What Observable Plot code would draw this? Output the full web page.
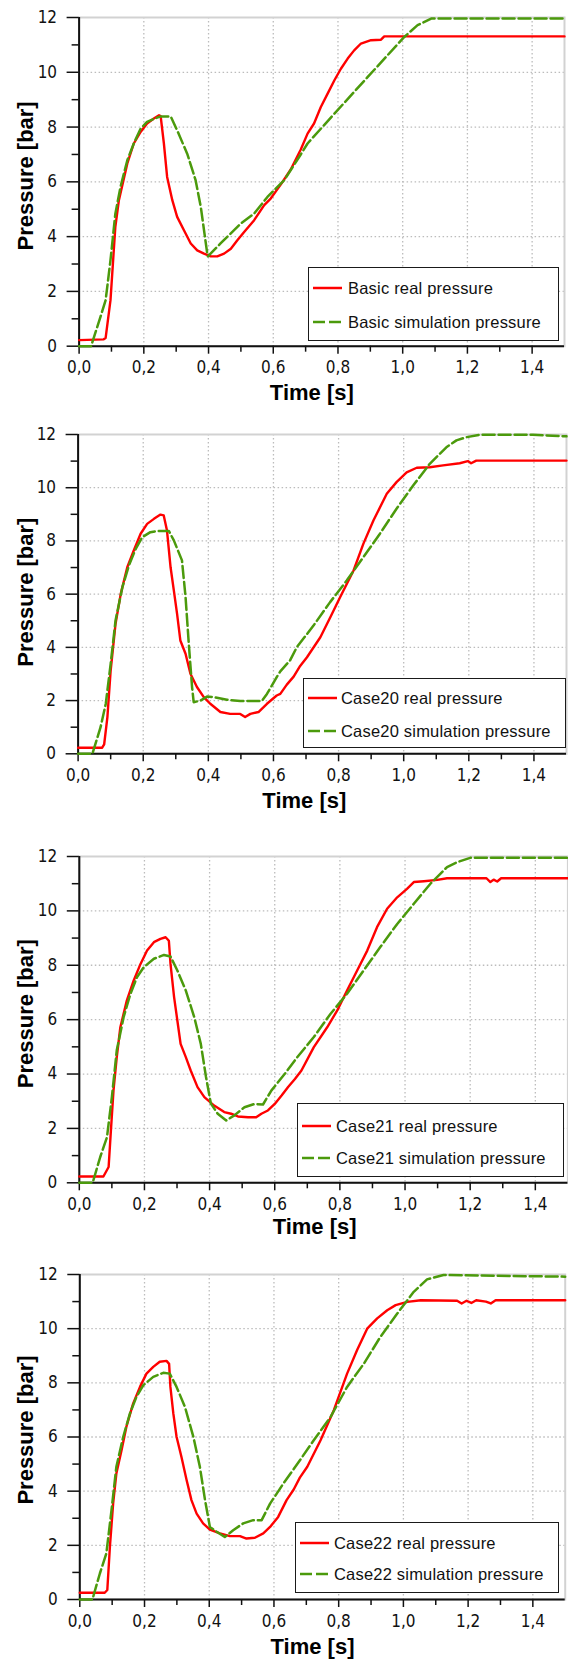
<!DOCTYPE html>
<html><head><meta charset="utf-8">
<script src="https://cdn.jsdelivr.net/npm/d3@7"></script>
<script src="https://cdn.jsdelivr.net/npm/@observablehq/plot@0.6"></script>
<style>
html,body{margin:0;padding:0;background:#fff;}
#root{position:relative;width:568px;height:1659px;overflow:hidden;background:#fff;}
.panel{position:absolute;left:0;}
.legend{position:absolute;background:#fff;border:1px solid #1a1a1a;box-sizing:border-box;font-family:"Liberation Sans",Arial,sans-serif;font-size:16.5px;letter-spacing:0.2px;color:#111;}
.legend .row{position:absolute;display:flex;align-items:center;white-space:nowrap;height:20px;}
.legend svg{display:block;}
</style></head><body><div id="root"></div>
<script>
// ---------- tick values ----------
const xTicks = [0, 0.2, 0.4, 0.6, 0.8, 1.0, 1.2, 1.4];
const xMinorTicks = [0.1, 0.3, 0.5, 0.7, 0.9, 1.1, 1.3];
const yTicks = [0, 2, 4, 6, 8, 10, 12];
const yMinorTicks = [1, 3, 5, 7, 9, 11];
const caseNames = ["Basic", "Case20", "Case21", "Case22"];

// ---------- Basic ----------
const basicRealTime = [0,0.076,0.082,0.097,0.112,0.123,0.149,0.169,0.19,0.21,0.231,0.247,0.252,0.262,0.272,0.288,0.303,0.324,0.345,0.365,0.386,0.407,0.427,0.448,0.469,0.489,0.51,0.541,0.572,0.592,0.623,0.654,0.685,0.706,0.726,0.747,0.768,0.789,0.809,0.83,0.85,0.871,0.902,0.933,0.943,1.5];
const basicRealPressure = [0.22,0.25,0.3,1.68,4.36,5.33,6.67,7.4,7.82,8.13,8.31,8.43,8.4,7.4,6.18,5.33,4.72,4.23,3.75,3.5,3.38,3.28,3.28,3.38,3.56,3.87,4.17,4.6,5.15,5.39,5.9,6.45,7.18,7.76,8.13,8.73,9.22,9.71,10.13,10.5,10.8,11.05,11.17,11.19,11.31,11.31];
const basicSimTime = [0,0.037,0.066,0.082,0.097,0.112,0.128,0.149,0.169,0.19,0.21,0.231,0.252,0.283,0.303,0.334,0.36,0.376,0.396,0.398,0.437,0.5,0.541,0.582,0.634,0.685,0.706,0.789,0.892,1.005,1.046,1.088,1.5];
const basicSimPressure = [0,0,1.07,1.68,3.14,4.84,5.82,6.79,7.4,7.94,8.19,8.3,8.39,8.39,7.88,7.03,6.06,5.09,3.38,3.28,3.75,4.48,4.84,5.45,6.06,7.0,7.4,8.49,9.83,11.29,11.72,11.96,11.96];

// ---------- Case20 ----------
const case20RealTime = [0,0.074,0.08,0.09,0.1,0.115,0.131,0.151,0.171,0.192,0.212,0.233,0.253,0.263,0.273,0.284,0.294,0.304,0.314,0.33,0.345,0.365,0.386,0.406,0.437,0.467,0.498,0.513,0.529,0.554,0.58,0.61,0.621,0.641,0.662,0.682,0.703,0.744,0.775,0.805,0.846,0.876,0.907,0.948,0.978,1.009,1.04,1.08,1.121,1.172,1.197,1.207,1.223,1.5];
const case20RealPressure = [0.23,0.23,0.35,1.38,3.13,4.89,6.01,7.01,7.64,8.27,8.64,8.83,8.99,8.96,8.39,7.01,6.14,5.26,4.26,3.76,3.01,2.51,2.13,1.88,1.57,1.5,1.5,1.38,1.5,1.57,1.88,2.19,2.25,2.6,2.9,3.3,3.63,4.38,5.14,5.89,6.89,7.89,8.77,9.77,10.21,10.58,10.75,10.77,10.84,10.92,11.0,10.92,11.02,11.02];
const case20SimTime = [0,0.044,0.069,0.085,0.1,0.115,0.136,0.156,0.177,0.197,0.222,0.243,0.279,0.294,0.319,0.33,0.34,0.35,0.355,0.376,0.396,0.416,0.457,0.498,0.564,0.58,0.61,0.621,0.651,0.672,0.723,0.774,0.825,0.876,0.927,0.978,1.029,1.08,1.131,1.162,1.193,1.234,1.397,1.5];
const case20SimPressure = [0,0,1.0,1.88,3.38,5.01,6.26,7.08,7.7,8.14,8.33,8.37,8.37,8.02,7.27,5.89,4.13,2.51,1.94,2.0,2.15,2.13,2.03,1.98,1.98,2.25,2.88,3.1,3.51,4.01,4.82,5.7,6.51,7.39,8.27,9.21,10.08,10.9,11.52,11.78,11.9,11.99,11.99,11.93];

// ---------- Case21 ----------
const case21RealTime = [0,0.074,0.09,0.097,0.105,0.115,0.126,0.146,0.167,0.188,0.208,0.229,0.249,0.265,0.275,0.28,0.291,0.301,0.311,0.327,0.342,0.363,0.384,0.414,0.445,0.466,0.487,0.518,0.543,0.559,0.579,0.6,0.621,0.641,0.662,0.682,0.72,0.761,0.792,0.822,0.853,0.884,0.914,0.945,0.976,1.006,1.027,1.058,1.099,1.129,1.25,1.262,1.272,1.283,1.295,1.5];
const case21RealPressure = [0.23,0.23,0.58,1.92,3.4,4.62,5.72,6.71,7.44,8.05,8.54,8.85,8.97,9.03,8.9,8.05,6.83,5.97,5.11,4.62,4.13,3.52,3.15,2.84,2.6,2.54,2.44,2.41,2.41,2.54,2.66,2.9,3.21,3.52,3.82,4.13,4.99,5.72,6.34,7.07,7.81,8.54,9.4,10.08,10.5,10.81,11.06,11.09,11.14,11.2,11.2,11.06,11.15,11.08,11.2,11.2];
const case21SimTime = [0,0.041,0.064,0.085,0.1,0.115,0.136,0.157,0.177,0.198,0.229,0.26,0.28,0.301,0.327,0.353,0.373,0.389,0.404,0.425,0.451,0.476,0.507,0.538,0.564,0.59,0.631,0.669,0.72,0.771,0.822,0.873,0.924,0.976,1.027,1.078,1.129,1.16,1.2,1.5];
const case21SimPressure = [0,0,0.94,1.68,3.15,4.87,6.09,6.95,7.56,7.93,8.24,8.38,8.32,7.81,7.07,6.09,5.11,3.89,2.91,2.54,2.29,2.48,2.78,2.9,2.88,3.4,4.01,4.62,5.36,6.21,6.95,7.81,8.67,9.52,10.26,11.0,11.61,11.79,11.95,11.95];

// ---------- Case22 ----------
const case22RealTime = [0,0.077,0.085,0.093,0.103,0.113,0.129,0.144,0.165,0.186,0.206,0.227,0.247,0.268,0.276,0.28,0.289,0.299,0.314,0.33,0.345,0.361,0.381,0.402,0.433,0.464,0.495,0.515,0.541,0.567,0.588,0.613,0.639,0.661,0.68,0.703,0.744,0.785,0.826,0.857,0.888,0.919,0.95,0.976,1.012,1.054,1.166,1.18,1.195,1.21,1.225,1.255,1.27,1.285,1.5];
const case22RealPressure = [0.25,0.25,0.35,1.94,3.54,4.65,5.51,6.38,7.24,7.85,8.34,8.59,8.78,8.81,8.7,7.85,6.87,6.01,5.27,4.41,3.67,3.17,2.81,2.58,2.44,2.34,2.34,2.25,2.28,2.44,2.68,3.05,3.67,4.06,4.5,4.9,5.88,6.99,8.34,9.21,10.0,10.38,10.68,10.87,10.99,11.05,11.03,10.93,11.03,10.95,11.05,11.0,10.93,11.05,11.05];
const case22SimTime = [0,0.039,0.062,0.082,0.098,0.113,0.134,0.155,0.175,0.196,0.227,0.258,0.278,0.299,0.325,0.351,0.371,0.387,0.402,0.423,0.448,0.474,0.505,0.536,0.562,0.588,0.629,0.672,0.723,0.775,0.826,0.878,0.929,0.981,1.032,1.073,1.124,1.5];
const case22SimPressure = [0,0,0.96,1.7,3.3,4.9,6.0,6.87,7.48,7.91,8.22,8.37,8.34,7.85,7.11,6.0,4.9,3.67,2.68,2.5,2.31,2.56,2.81,2.93,2.93,3.54,4.28,5.0,5.88,6.74,7.85,8.71,9.7,10.56,11.36,11.82,11.98,11.92];

const realTimes = [basicRealTime, case20RealTime, case21RealTime, case22RealTime];
const realPressures = [basicRealPressure, case20RealPressure, case21RealPressure, case22RealPressure];
const simTimes = [basicSimTime, case20SimTime, case21SimTime, case22SimTime];
const simPressures = [basicSimPressure, case20SimPressure, case21SimPressure, case22SimPressure];

// ---------- layout (page pixels) ----------
const layout = [
  {plotTop: 17.3, plotH: 328.7, mL: 78.6, mR: 4, tdx: -10, tdy: 47, pdy: -6,
   legend: {left: 308, top: 267, w: 251, h: 74, r1: 20, r2: 54, sx: 4, tx: 39}},
  {plotTop: 434, plotH: 319.3, mL: 77.6, mR: 2, tdx: -18, tdy: 47, pdy: -2,
   legend: {left: 303, top: 678, w: 263, h: 70, r1: 19, r2: 52, sx: 4, tx: 37}},
  {plotTop: 856, plotH: 326.3, mL: 78.8, mR: 0.6, tdx: -9, tdy: 44, pdy: -6,
   legend: {left: 297, top: 1103, w: 267, h: 74, r1: 22, r2: 54, sx: 4, tx: 38}},
  {plotTop: 1274.3, plotH: 325, mL: 79.3, mR: 3.3, tdx: -10, tdy: 47, pdy: -7,
   legend: {left: 295, top: 1522, w: 264, h: 71, r1: 20, r2: 51, sx: 4, tx: 38}}
];

const RED = "#ff0000";
const GREEN = "#4b9a0c";
const DASH = "12,4";
const tickFont = "'Liberation Sans Narrow','DejaVu Sans Condensed','Liberation Sans',Arial,sans-serif";
const titleFont = "'Liberation Sans',Arial,sans-serif";
const fmt = d => d.toFixed(1).replace(".", ",");
const root = document.getElementById("root");

layout.forEach((L, k) => {
  const real = realTimes[k].map((t, i) => ({t, p: realPressures[k][i]}));
  const sim = simTimes[k].map((t, i) => ({t, p: simPressures[k][i]}));
  const mt = 18, mb = 64;
  const grid = {stroke: "#bcbcbc", strokeOpacity: 1, strokeWidth: 1.3, strokeDasharray: "1.5,2.5"};
  const svg = Plot.plot({
    width: 568,
    height: mt + L.plotH + mb,
    marginLeft: L.mL, marginRight: L.mR, marginTop: mt, marginBottom: mb,
    x: {domain: [0, 1.5], axis: null},
    y: {domain: [0, 12], axis: null},
    style: {fontFamily: tickFont, fontSize: "17px", color: "#111", background: "transparent", overflow: "visible"},
    marks: [
      Plot.gridX(xTicks.slice(1), grid),
      Plot.gridY(yTicks.slice(1, -1), grid),
      Plot.frame({stroke: "#d2d2d2", strokeWidth: 2}),
      Plot.ruleX([0], {stroke: "#111", strokeWidth: 2}),
      Plot.ruleY([0], {stroke: "#111", strokeWidth: 2}),
      Plot.axisY(yMinorTicks, {tickSize: 7, tickFormat: () => "", label: null, stroke: "#111", strokeWidth: 1.5}),
      Plot.axisY(yTicks, {tickSize: 12, tickPadding: 10, label: null, stroke: "#111", strokeWidth: 1.5, fill: "#111"}),
      Plot.axisX(xMinorTicks, {tickSize: 6, tickFormat: () => "", label: null, stroke: "#111", strokeWidth: 1.5}),
      Plot.axisX(xTicks, {tickSize: 8, tickPadding: 7, tickFormat: fmt, label: null, stroke: "#111", strokeWidth: 1.5, fill: "#111"}),
      Plot.line(real, {x: "t", y: "p", stroke: RED, strokeWidth: 2.4}),
      Plot.line(sim, {x: "t", y: "p", stroke: GREEN, strokeWidth: 2.5, strokeDasharray: DASH}),
      Plot.text(["Pressure [bar]"], {text: d => d, frameAnchor: "left", dx: 25 - L.mL, dy: L.pdy, rotate: -90,
        textAnchor: "middle", lineAnchor: "middle", fontSize: 22, fontWeight: "bold", fontFamily: titleFont, fill: "#000"}),
      Plot.text(["Time [s]"], {text: d => d, frameAnchor: "bottom", dx: L.tdx, dy: L.tdy,
        textAnchor: "middle", lineAnchor: "middle", fontSize: 22, fontWeight: "bold", fontFamily: titleFont, fill: "#000"})
    ]
  });
  svg.classList.add("panel");
  svg.style.top = (L.plotTop - mt) + "px";
  svg.style.position = "absolute";
  svg.style.left = "0px";
  root.appendChild(svg);

  // legend box inside the plot area
  const G = L.legend;
  const box = document.createElement("div");
  box.className = "legend";
  Object.assign(box.style, {left: G.left + "px", top: G.top + "px", width: G.w + "px", height: G.h + "px"});
  const rows = [
    {y: G.r1, color: RED, dash: null, label: caseNames[k] + " real pressure"},
    {y: G.r2, color: GREEN, dash: DASH, label: caseNames[k] + " simulation pressure"}
  ];
  rows.forEach(r => {
    const row = document.createElement("div");
    row.className = "row";
    Object.assign(row.style, {left: G.sx + "px", top: (r.y - 10) + "px"});
    const s = d3.create("svg").attr("width", G.tx - G.sx).attr("height", 20);
    s.append("line").attr("x1", 0).attr("x2", 29).attr("y1", 10).attr("y2", 10)
      .attr("stroke", r.color).attr("stroke-width", 2.5)
      .attr("stroke-dasharray", r.dash);
    row.appendChild(s.node());
    const span = document.createElement("span");
    span.textContent = r.label;
    row.appendChild(span);
    box.appendChild(row);
  });
  root.appendChild(box);
});
</script></body></html>
